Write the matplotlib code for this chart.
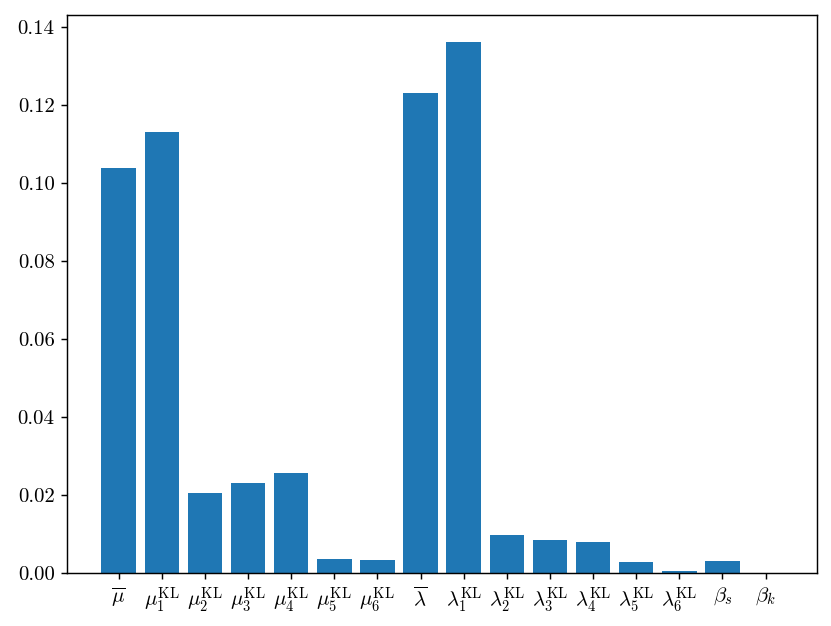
import numpy as np
import matplotlib
matplotlib.use("Agg")
import matplotlib.pyplot as plt

plt.rcParams['font.family'] = 'serif'
plt.rcParams['font.serif'] = ['cmr10']
plt.rcParams['mathtext.fontset'] = 'cm'
plt.rcParams['axes.formatter.use_mathtext'] = True
plt.rcParams['font.size'] = 11.5

labels = [r'$\overline{\mu}$'] + [r'$\mu_{%d}^{\mathrm{KL}}$' % i for i in range(1, 7)] \
    + [r'$\overline{\lambda}$'] + [r'$\lambda_{%d}^{\mathrm{KL}}$' % i for i in range(1, 7)] \
    + [r'$\beta_s$', r'$\beta_k$']
values = [0.1038, 0.1131, 0.0205, 0.0231, 0.0256, 0.0035, 0.0033,
          0.1233, 0.1364, 0.0098, 0.0084, 0.0079, 0.0027, 0.0005,
          0.0031, 0.0]

dpi = 130
fig = plt.figure(figsize=(831 / dpi, 626 / dpi), dpi=dpi)
ax = fig.add_subplot(111)
fig.subplots_adjust(left=0.081, right=0.983, top=0.976, bottom=0.085)

x = np.arange(len(values))
ax.bar(x, values, color='#1f77b4')
ax.set_xticks(x)
ax.set_xticklabels(labels)
ax.set_yticks(np.arange(0, 0.141, 0.02))
ax.set_yticklabels(['%.2f' % v for v in np.arange(0, 0.141, 0.02)])
ax.set_ylim(0, 0.1432)

fig.savefig('out.png', dpi=dpi)
